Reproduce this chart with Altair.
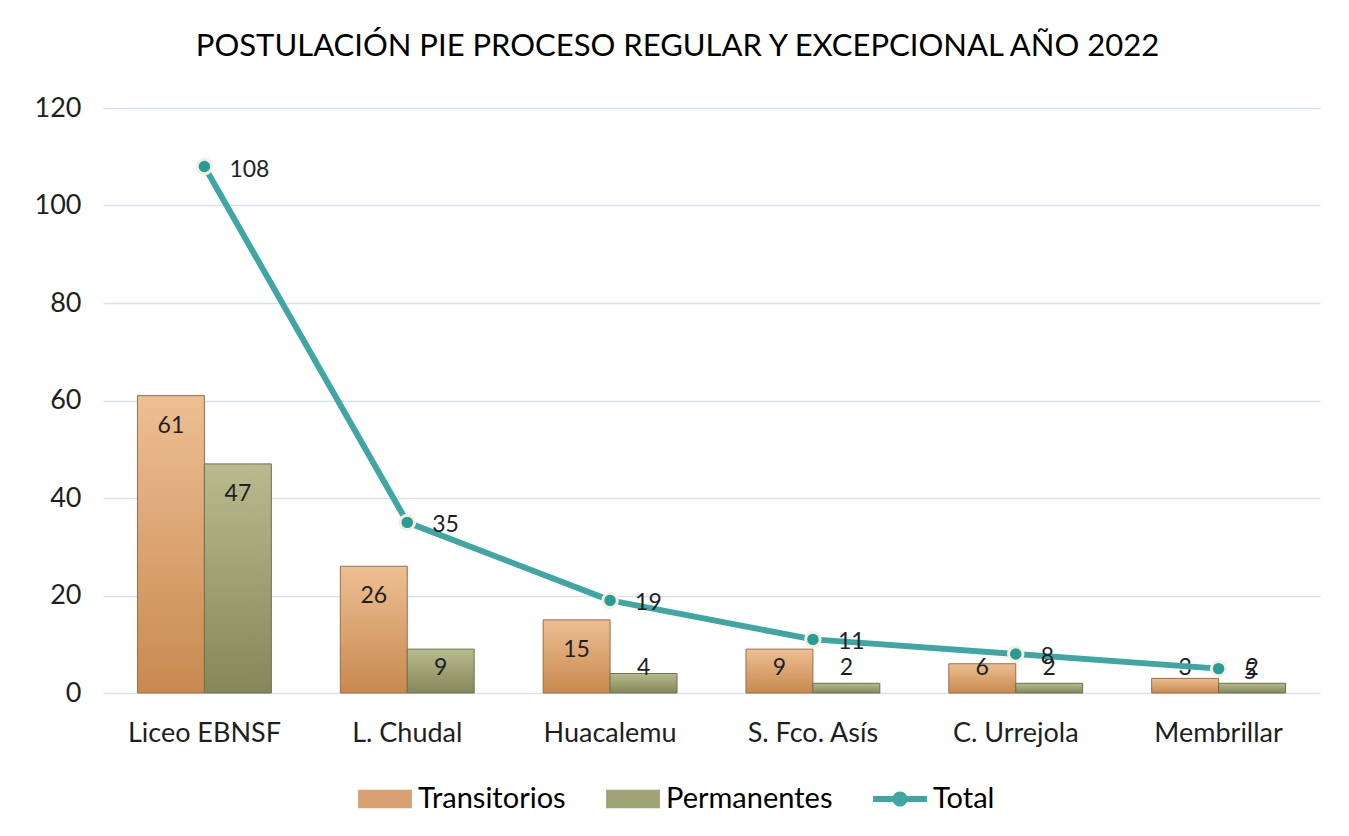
import altair as alt
import pandas as pd

categories = ["Liceo EBNSF", "L. Chudal", "Huacalemu", "S. Fco. Asís", "C. Urrejola", "Membrillar"]
transitorios = [61, 26, 15, 9, 6, 3]
permanentes = [47, 9, 4, 2, 2, 2]
total = [108, 35, 19, 11, 8, 5]
series = ["Transitorios", "Permanentes", "Total"]
y_ticks = [0, 20, 40, 60, 80, 100, 120]

bars = pd.DataFrame({
    "cat": categories * 2,
    "serie": ["Transitorios"] * len(categories) + ["Permanentes"] * len(categories),
    "v": transitorios + permanentes,
})
line = pd.DataFrame({"cat": categories, "serie": ["Total"] * len(categories), "v": total})

FONT = "Lato"
TXT = "#1f1f1f"
ORANGE = "#D9A071"
OLIVE = "#A1A477"
TEAL = "#3FA6A3"

x = alt.X("cat:N", sort=categories,
          scale=alt.Scale(paddingInner=0.34, paddingOuter=0.17),
          axis=alt.Axis(title=None, labelAngle=0, domain=False, ticks=False, labelPadding=27,
                        labelFontSize=27, labelFont=FONT, labelColor=TXT, grid=False))
y = alt.Y("v:Q", scale=alt.Scale(domain=[0, 120]),
          axis=alt.Axis(title=None, values=y_ticks, domain=False, ticks=False, grid=True,
                        gridColor="#D5E1F1", gridWidth=1.5, labelPadding=22,
                        labelFontSize=27, labelFont=FONT, labelColor=TXT))
xo = alt.XOffset("serie:N", scale=alt.Scale(domain=["Transitorios", "Permanentes"],
                                             paddingInner=0, paddingOuter=0))

def grad(top, bottom):
    return alt.Gradient(gradient="linear",
                        stops=[alt.GradientStop(color=top, offset=0),
                               alt.GradientStop(color=bottom, offset=1)],
                        x1=0, x2=0, y1=0, y2=1)

bar_t = alt.Chart(bars).transform_filter("datum.serie == 'Transitorios'").mark_bar(
    fill=grad("#EDBF93", "#C8894F"), stroke="#9A6D47", strokeWidth=1
).encode(x=x, xOffset=xo, y=y)

bar_p = alt.Chart(bars).transform_filter("datum.serie == 'Permanentes'").mark_bar(
    fill=grad("#B7BB8E", "#83875A"), stroke="#6E7150", strokeWidth=1
).encode(x=x, xOffset=xo, y=y)

bar_txt = alt.Chart(bars).transform_calculate(
    ly="max(datum.v - 6.2, 5.1)"
).mark_text(fontSize=23, font=FONT, color=TXT, baseline="middle").encode(
    x=x, xOffset=xo, y=alt.Y("ly:Q"), text="v:Q")

tline = alt.Chart(line).mark_line(color=TEAL, strokeWidth=6, interpolate="linear",
                                  strokeJoin="round").encode(x=x, y=y)
tpts = alt.Chart(line).mark_point(filled=True, shape="circle", size=210, fill="#2A9C98",
                                  stroke="#F3F0E2", strokeWidth=3, opacity=1).encode(x=x, y=y)
ttxt = alt.Chart(line).mark_text(fontSize=23, font=FONT, color=TXT, align="left", dx=25, dy=3,
                                 baseline="middle").encode(x=x, y=y, text="v:Q")

RECT = "M-1,-0.34H1V0.34H-1Z"
LINESYM = ("M-1,-0.11H1V0.11H-1Z "
           "M0.28,0A0.28,0.28 0 1,1 -0.28,0A0.28,0.28 0 1,1 0.28,0Z")
leg = alt.Legend(title=None, orient="none", legendX=255, legendY=664, direction="horizontal",
                 labelFontSize=29, labelFont=FONT, labelColor="#000", symbolSize=2900,
                 columnPadding=40, labelOffset=6, padding=0, symbolStrokeWidth=0, labelLimit=400)
legend_layer = alt.Chart(line).transform_filter("datum.v < 0").mark_point(
    filled=True, opacity=1, size=2900
).encode(
    x=x, y=y,
    color=alt.Color("serie:N", scale=alt.Scale(domain=series, range=[ORANGE, OLIVE, TEAL]), legend=leg),
    shape=alt.Shape("serie:N", scale=alt.Scale(domain=series, range=[RECT, RECT, LINESYM]), legend=leg),
)

chart = alt.layer(bar_t, bar_p, bar_txt, tline, tpts, ttxt, legend_layer).properties(
    width=1217, height=585,
    title=alt.TitleParams(text="POSTULACIÓN PIE  PROCESO REGULAR Y EXCEPCIONAL AÑO 2022",
                          fontSize=31, font=FONT, fontWeight="normal", color="#000",
                          anchor="middle", dx=-34, offset=31),
    padding={"left": 95, "top": 100, "right": 21, "bottom": 135},
    autosize=alt.AutoSizeParams(type="none"),
    background="white",
).configure_view(stroke=None)

chart.save("out.html", embed_options={"renderer": "svg", "actions": False})
